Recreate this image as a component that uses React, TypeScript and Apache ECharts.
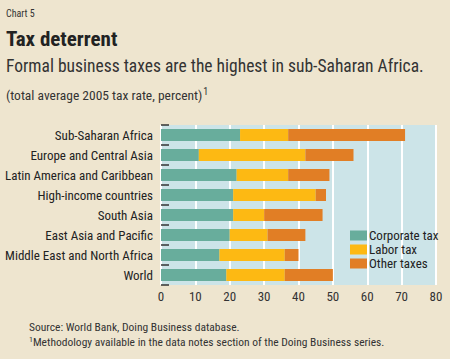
import React, { useEffect, useRef } from "react";
import * as echarts from "echarts";

const categories = [
  "Sub-Saharan Africa",
  "Europe and Central Asia",
  "Latin America and Caribbean",
  "High-income countries",
  "South Asia",
  "East Asia and Pacific",
  "Middle East and North Africa",
  "World",
];
const corporateTax = [23, 11, 22, 21, 21, 20, 17, 19];
const laborTax = [14, 31, 15, 24, 9, 11, 19, 17];
const otherTaxes = [34, 14, 12, 3, 17, 11, 4, 14];
const seriesNames = ["Corporate tax", "Labor tax", "Other taxes"];
const colors = ["#68ad9c", "#fdb913", "#e17e25"];

const FONT = "'Liberation Sans Narrow', 'Arial Narrow', 'Roboto Condensed', sans-serif";

export default function App() {
  const ref = useRef<HTMLDivElement>(null);
  useEffect(() => {
    if (!ref.current) return;
    const chart = echarts.init(ref.current, null, { renderer: "svg" });
    const data = [corporateTax, laborTax, otherTaxes];
    chart.setOption({
      animation: false,
      backgroundColor: "#eee5cf",
      textStyle: { fontFamily: FONT },
      grid: {
        left: 161,
        right: 14,
        top: 125,
        height: 160,
        show: true,
        backgroundColor: "#cce4e8",
        borderWidth: 0,
        containLabel: false,
      },
      xAxis: {
        type: "value",
        min: 0,
        max: 80,
        interval: 10,
        axisLine: { show: false },
        axisTick: { show: false },
        splitLine: { show: true, lineStyle: { color: "#ffffff", width: 2 } },
        axisLabel: { color: "#333", fontSize: 13, margin: 5, fontFamily: FONT },
      },
      yAxis: {
        type: "category",
        data: categories,
        inverse: true,
        axisLine: { show: false },
        axisTick: { show: true, inside: true, length: 8, lineStyle: { color: "#333", width: 1.5 } },
        axisLabel: { color: "#222", fontSize: 13, margin: 8, fontFamily: FONT },
        splitLine: { show: false },
      },
      legend: {
        orient: "vertical",
        left: 345,
        top: 224,
        itemWidth: 17,
        itemHeight: 10,
        itemGap: 1,
        icon: "rect",
        data: seriesNames,
        textStyle: { color: "#222", fontSize: 13, fontFamily: FONT, padding: [0, 0, 0, -3] },
      },
      series: seriesNames.map((name, i) => ({
        name,
        type: "bar",
        stack: "total",
        data: data[i],
        barWidth: 12,
        itemStyle: { color: colors[i] },
      })),
      graphic: [
        {
          type: "text",
          left: 6,
          top: 8,
          style: { text: "Chart 5", fill: "#333", font: `10px ${FONT}` },
        },
        {
          type: "text",
          left: 6,
          top: 28,
          style: { text: "Tax deterrent", fill: "#222", font: `bold 21px ${FONT}` },
        },
        {
          type: "text",
          left: 6,
          top: 57,
          style: {
            text: "Formal business taxes are the highest in sub-Saharan Africa.",
            fill: "#333",
            font: `17.5px ${FONT}`,
          },
        },
        {
          type: "text",
          left: 6,
          top: 86,
          style: {
            text: "(total average 2005 tax rate, percent){s|1}",
            fill: "#333",
            font: `13.5px ${FONT}`,
            rich: { s: { fontSize: 10, fontFamily: FONT, padding: [0, 0, 7, 1], fill: "#333" } },
          },
        },
        {
          type: "text",
          left: 29,
          top: 321,
          style: { text: "Source: World Bank, Doing Business database.", fill: "#333", font: `11.5px ${FONT}` },
        },
        {
          type: "text",
          left: 29,
          top: 335,
          style: {
            text: "{s|1}Methodology available in the data notes section of the Doing Business series.",
            fill: "#333",
            font: `11.5px ${FONT}`,
            rich: { s: { fontSize: 8, fontFamily: FONT, padding: [0, 0, 5, 0], fill: "#333" } },
          },
        },
      ],
    });
    return () => chart.dispose();
  }, []);
  return <div ref={ref} style={{ position: "fixed", left: 0, top: 0, width: 450, height: 359 }} />;
}
